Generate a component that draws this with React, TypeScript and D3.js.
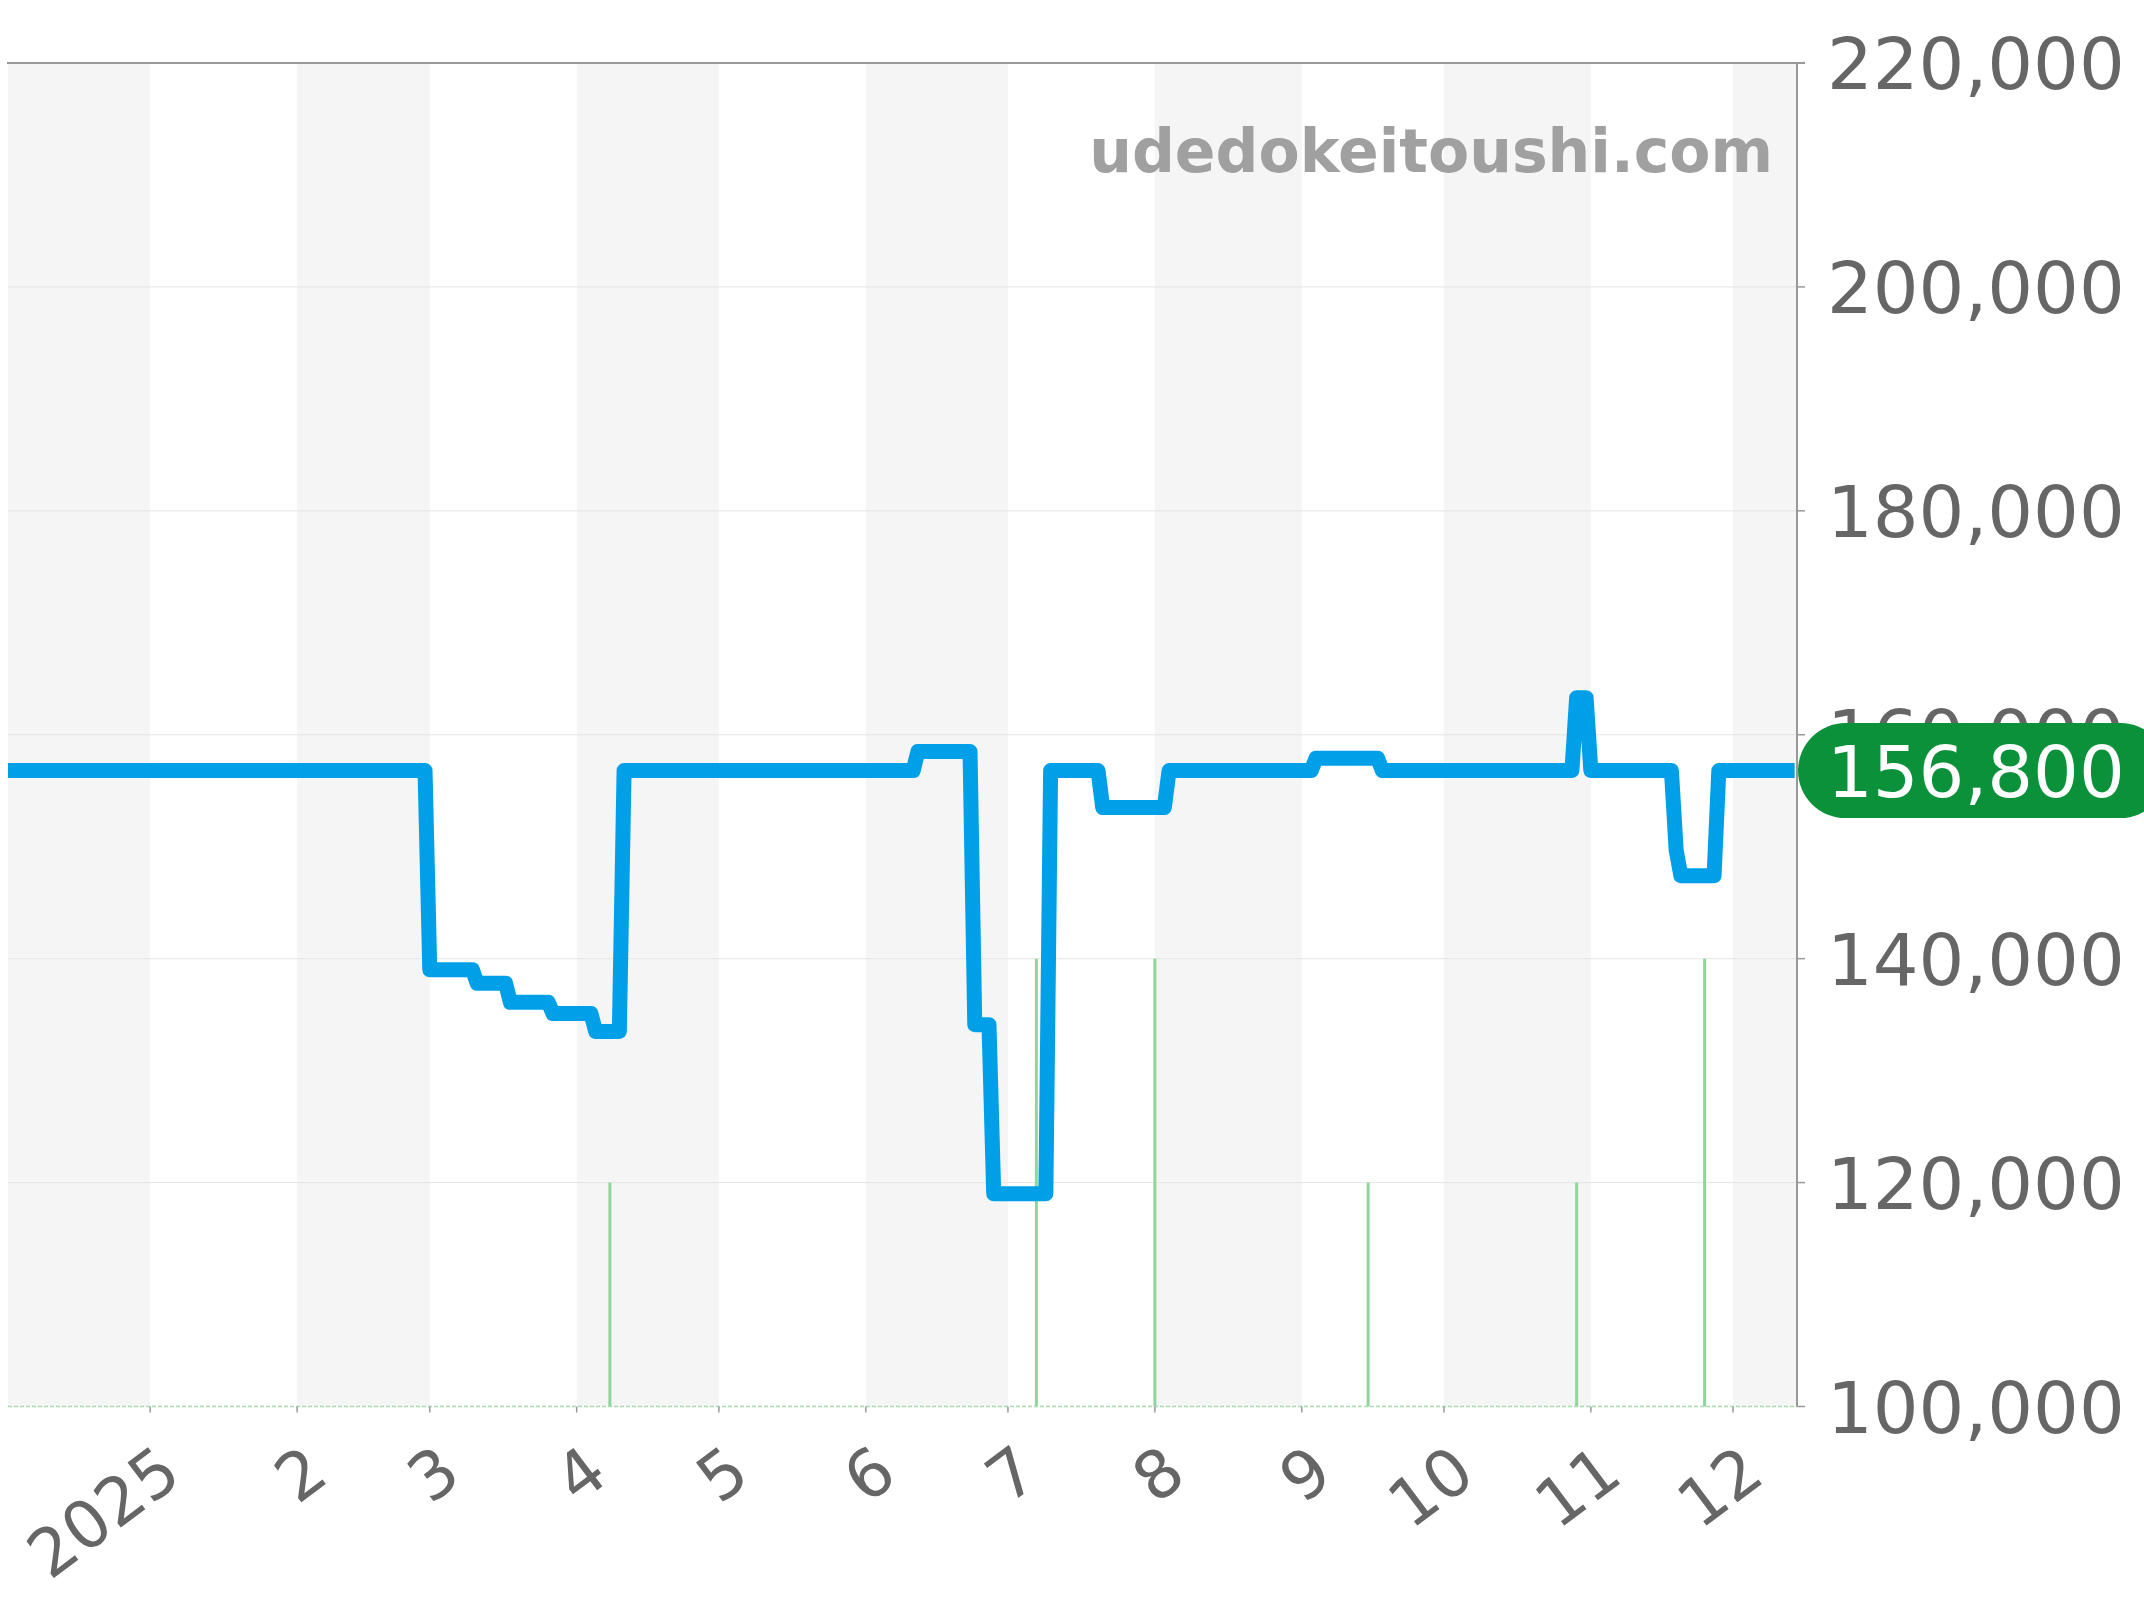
import React from "react";
import * as d3 from "d3";

const priceDates = [
  "2024-12-02", "2025-02-28", "2025-03-01", "2025-03-10", "2025-03-11",
  "2025-03-17", "2025-03-18", "2025-03-26", "2025-03-27", "2025-04-04",
  "2025-04-05", "2025-04-10", "2025-04-11", "2025-06-11", "2025-06-12",
  "2025-06-23", "2025-06-24", "2025-06-27", "2025-06-28", "2025-07-09",
  "2025-07-10", "2025-07-20", "2025-07-21", "2025-08-03", "2025-08-04",
  "2025-09-03", "2025-09-04", "2025-09-17", "2025-09-18", "2025-10-28",
  "2025-10-29", "2025-10-31", "2025-11-01", "2025-11-18", "2025-11-19",
  "2025-11-20", "2025-11-27", "2025-11-28", "2025-12-14",
];
const priceValues = [
  156800, 156800, 139000, 139000, 137800,
  137800, 136100, 136100, 135100, 135100,
  133500, 133500, 156800, 156800, 158500,
  158500, 134100, 134100, 119000, 119000,
  156800, 156800, 153500, 153500, 156800,
  156800, 157900, 157900, 156800, 156800,
  163300, 163300, 156800, 156800, 149700,
  147400, 147400, 156800, 156800,
];

const volumeDates = ["2025-04-08", "2025-07-07", "2025-08-01", "2025-09-15", "2025-10-29", "2025-11-25"];
const volumeValues = [1, 2, 2, 1, 1, 2];

const yTicks = [100000, 120000, 140000, 160000, 180000, 200000, 220000];
const monthTickDates = [
  "2025-01-01", "2025-02-01", "2025-03-01", "2025-04-01", "2025-05-01", "2025-06-01",
  "2025-07-01", "2025-08-01", "2025-09-01", "2025-10-01", "2025-11-01", "2025-12-01",
];
const monthTickLabels = ["2025", "2", "3", "4", "5", "6", "7", "8", "9", "10", "11", "12"];
const stripeMonths = ["2024-12-01", "2025-02-01", "2025-04-01", "2025-06-01", "2025-08-01", "2025-10-01", "2025-12-01"];

const lastPrice = 156800;
const watermark = "udedokeitoushi.com";

const parse = d3.timeParse("%Y-%m-%d");

export default function App() {
  const left = 8, right = 1797, top = 63, bottom = 1406.5;
  const domainStart = new Date(2024, 11, 2);
  const domainEnd = new Date(2025, 11, 14, 12);
  const x = d3.scaleTime().domain([domainStart, domainEnd]).range([left, right]);
  const y = d3.scaleLinear().domain([100000, 220000]).range([bottom, top]);
  const yVol = d3.scaleLinear().domain([0, 6]).range([bottom, top]);
  const fmt = d3.format(",");
  const font = "DejaVu Sans";

  const pts = priceDates.map((d, i) => [parse(d) as Date, priceValues[i]] as [Date, number]);
  const line = d3.line<[Date, number]>().x((d) => x(d[0])).y((d) => y(d[1]));

  const stripes = stripeMonths.map((m) => {
    const s = parse(m) as Date;
    const e = d3.timeMonth.offset(s, 1);
    const x0 = Math.max(left, x(s));
    const x1 = Math.min(right, x(e));
    return { x0, x1 };
  });

  const yLast = y(lastPrice);

  return (
    <div style={{ position: "absolute", left: 0, top: 0 }}>
      <svg width={2144} height={1600} style={{ display: "block" }}>
        <rect x={0} y={0} width={2144} height={1600} fill="#ffffff" />
        {stripes.map((s, i) => (
          <rect key={i} x={s.x0} y={top} width={s.x1 - s.x0} height={bottom - top} fill="#f5f5f5" />
        ))}
        {yTicks.slice(1, -1).map((t) => (
          <line key={t} x1={left} x2={right} y1={y(t)} y2={y(t)} stroke="#e4e4e4" strokeWidth={1} />
        ))}
        <text x={1773} y={172} textAnchor="end" fontFamily={font} fontWeight="bold" fontSize={60} fill="#a0a0a0">
          {watermark}
        </text>
        {volumeDates.map((d, i) => {
          const xx = x(parse(d) as Date);
          return (
            <line key={d} x1={xx} x2={xx} y1={bottom} y2={yVol(volumeValues[i])} stroke="#8fd69c" strokeWidth={3} />
          );
        })}
        <line x1={left} x2={right} y1={bottom} y2={bottom} stroke="#a9dcb3" strokeWidth={1.5} strokeDasharray="4 2" />
        <line x1={left - 1} x2={right + 8} y1={top} y2={top} stroke="#999" strokeWidth={2} />
        <line x1={right} x2={right} y1={top} y2={bottom} stroke="#999" strokeWidth={2} />
        {yTicks.map((t) => (
          <line key={t} x1={right} x2={right + 8} y1={y(t)} y2={y(t)} stroke="#999" strokeWidth={1.5} />
        ))}
        {monthTickDates.map((d) => {
          const xx = x(parse(d) as Date);
          return <line key={d} x1={xx} x2={xx} y1={bottom} y2={bottom + 6} stroke="#999" strokeWidth={1.5} />;
        })}
        {yTicks.map((t) => (
          <text key={t} x={1827} y={y(t) + 26} fontFamily={font} fontSize={72} fill="#666">
            {fmt(t)}
          </text>
        ))}
        {monthTickDates.map((d, i) => {
          const xx = x(parse(d) as Date);
          return (
            <text
              key={d}
              transform={`translate(${xx + 34},1480) rotate(-37)`}
              textAnchor="end"
              fontFamily={font}
              fontSize={66}
              fill="#666"
            >
              {monthTickLabels[i]}
            </text>
          );
        })}
        <path d={line(pts) || ""} fill="none" stroke="#00a0e9" strokeWidth={15} strokeLinejoin="round" strokeLinecap="butt" />
        <rect x={1798} y={yLast - 47.5} width={370} height={95} rx={47.5} ry={47.5} fill="#0a9139" />
        <text x={1827} y={yLast + 26} fontFamily={font} fontSize={72} fill="#ffffff">
          {fmt(lastPrice)}
        </text>
      </svg>
    </div>
  );
}
